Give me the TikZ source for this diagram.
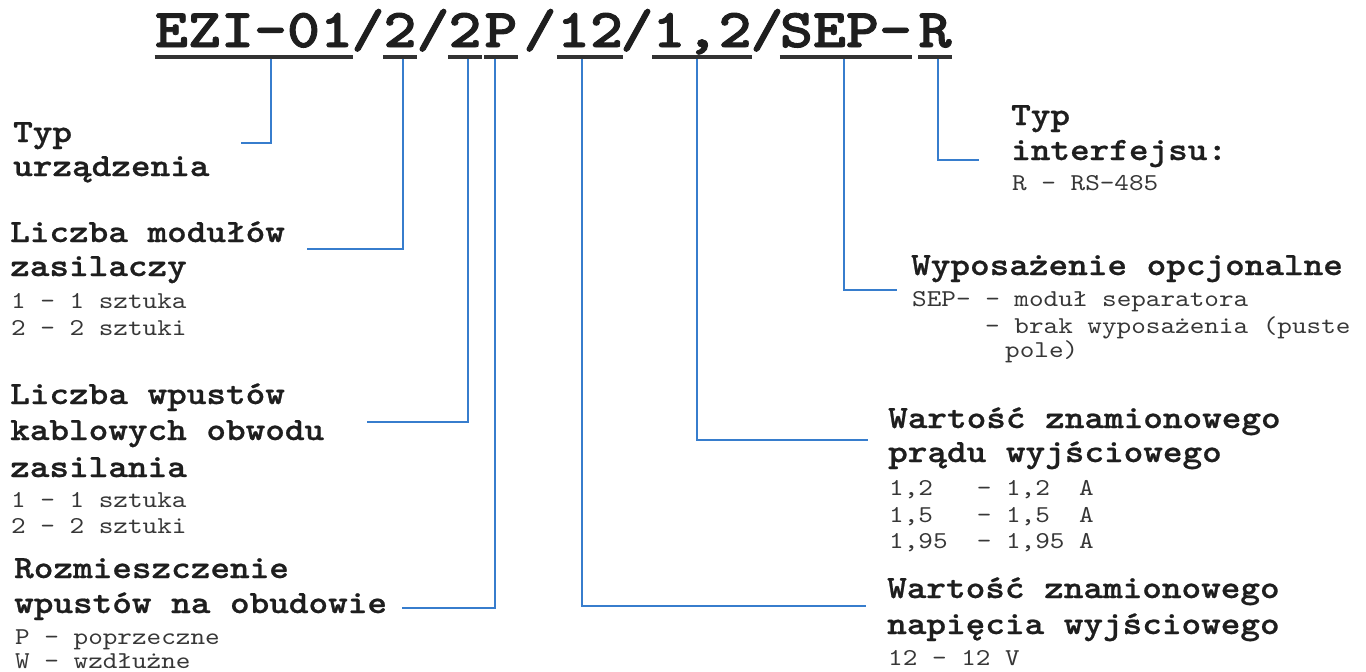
\documentclass[tikz,border=0pt]{standalone}
\usepackage{fontspec}
% typewriter faces with slab serifs, slightly widened
\newfontfamily\monotitle{lmmonolt10-bold.otf}[FakeStretch=1.15,FakeBold=1.6]
\newfontfamily\monodark{lmmonolt10-bold.otf}[FakeStretch=1.15,FakeBold=0.7]
\newfontfamily\monoreg{lmmono10-regular.otf}[FakeStretch=1.15]
\definecolor{linkblue}{RGB}{55,125,205}
\definecolor{inkdark}{RGB}{30,30,30}
\definecolor{inkbody}{RGB}{55,55,55}
\definecolor{ulinecol}{RGB}{50,50,50}
\newcommand\codefont{\monotitle\fontsize{54.7}{55}\selectfont}
\newcommand\headfont{\monodark\fontsize{32.5}{34}\selectfont}
\newcommand\bodyfont{\monoreg\fontsize{24.2}{26}\selectfont}
\tikzset{
  code/.style={font=\codefont, text=inkdark, inner sep=0pt, anchor=base,
               text height=34pt, text depth=10pt},
  head/.style={font=\headfont, text=inkdark, inner sep=0pt, anchor=base west},
  body/.style={font=\bodyfont, text=inkbody, inner sep=0pt, anchor=base west},
  link/.style={draw=linkblue, line width=2pt},
  uline/.style={draw=ulinecol, line width=4pt}
}
\begin{document}
\begin{tikzpicture}[x=1pt,y=-1pt]
\useasboundingbox (0,0) rectangle (1366,672);
\fill[white] (0,0) rectangle (1366,672);

% product code, split into its fields
\node[code] (t1) at (254,47) {EZI-01};
\node[code] (sl1) at (368,47) {/};
\node[code] (t2) at (400,47) {2};
\node[code] (sl2) at (433,47) {/};
\node[code] (t3) at (465,47) {2};
\node[code] (t4) at (501,47) {P};
\node[code] (sl3) at (540,47) {/};
\node[code] (t5) at (590,47) {12};
\node[code] (sl4) at (637,47) {/};
\node[code] (t6) at (702,47) {1,2};
\node[code] (sl5) at (767,47) {/};
\node[code] (t7) at (846,47) {SEP-};
\node[code] (t8) at (935,47) {R};

% left column
\node[head] (a1) at (13,142) {Typ};
\node[head] (a2) at (13,176) {urządzenia};

\node[head] (b1) at (10,242) {Liczba modułów};
\node[head] (b2) at (10,276) {zasilaczy};
\node[body] (b3) at (11,308) {1 - 1 sztuka};
\node[body] (b4) at (11,335) {2 - 2 sztuki};

\node[head] (c1t) at (10,404) {Liczba wpustów};
\node[head] (c2t) at (10,440) {kablowych obwodu};
\node[head] (c3t) at (10,477) {zasilania};
\node[body] (c4t) at (11,507) {1 - 1 sztuka};
\node[body] (c5t) at (11,533) {2 - 2 sztuki};

\node[head] (d1) at (14,578) {Rozmieszczenie};
\node[head] (d2) at (14,613) {wpustów na obudowie};
\node[body] (d3) at (15,644) {P - poprzeczne};
\node[body] (d4) at (15,668) {W - wzdłużne};

% right column
\node[head] (r1) at (1011,125) {Typ};
\node[head] (r2) at (1011,160) {interfejsu:};
\node[body] (r3) at (1012,190) {R - RS-485};

\node[head] (e1) at (911,275) {Wyposażenie opcjonalne};
\node[body] (e2) at (912,306) {SEP- - moduł separatora};
\node[body] (e3) at (985,333) {- brak wyposażenia (puste};
\node[body] (e4) at (1005,357) {pole)};

\node[head] (f1) at (888,428) {Wartość znamionowego};
\node[head] (f2) at (888,462) {prądu wyjściowego};
\node[body] (f3) at (889,495) {1,2~~~- 1,2~~A};
\node[body] (f4) at (889,522) {1,5~~~- 1,5~~A};
\node[body] (f5) at (889,548) {1,95~~- 1,95 A};

\node[head] (g1) at (887,598) {Wartość znamionowego};
\node[head] (g2) at (887,634) {napięcia wyjściowego};
\node[body] (g3) at (888,665) {12 - 12 V};

% free ends of the leader lines
\coordinate (e-a) at (241,143);
\coordinate (e-b) at (307,249);
\coordinate (e-c) at (367,422);
\coordinate (e-d) at (402,608);
\coordinate (e-g) at (866,606);
\coordinate (e-f) at (868,440);
\coordinate (e-e) at (897,290);
\coordinate (e-r) at (979,160);

% leader lines
\draw[link] ([xshift=17pt]t1.south) |- (e-a);
\draw[link] ([xshift=3pt]t2.south) |- (e-b);
\draw[link] ([xshift=3pt]t3.south) |- (e-c);
\draw[link] ([xshift=-6pt]t4.south) |- (e-d);
\draw[link] ([xshift=-8pt]t5.south) |- (e-g);
\draw[link] ([xshift=-5pt]t6.south) |- (e-f);
\draw[link] ([xshift=-2pt]t7.south) |- (e-e);
\draw[link] ([xshift=3pt]t8.south) |- (e-r);

% underlines of the fields
\foreach \f in {t1,t2,t3,t4,t5,t6,t7,t8}
  \draw[uline] (\f.south west) -- (\f.south east);
\end{tikzpicture}
\end{document}
